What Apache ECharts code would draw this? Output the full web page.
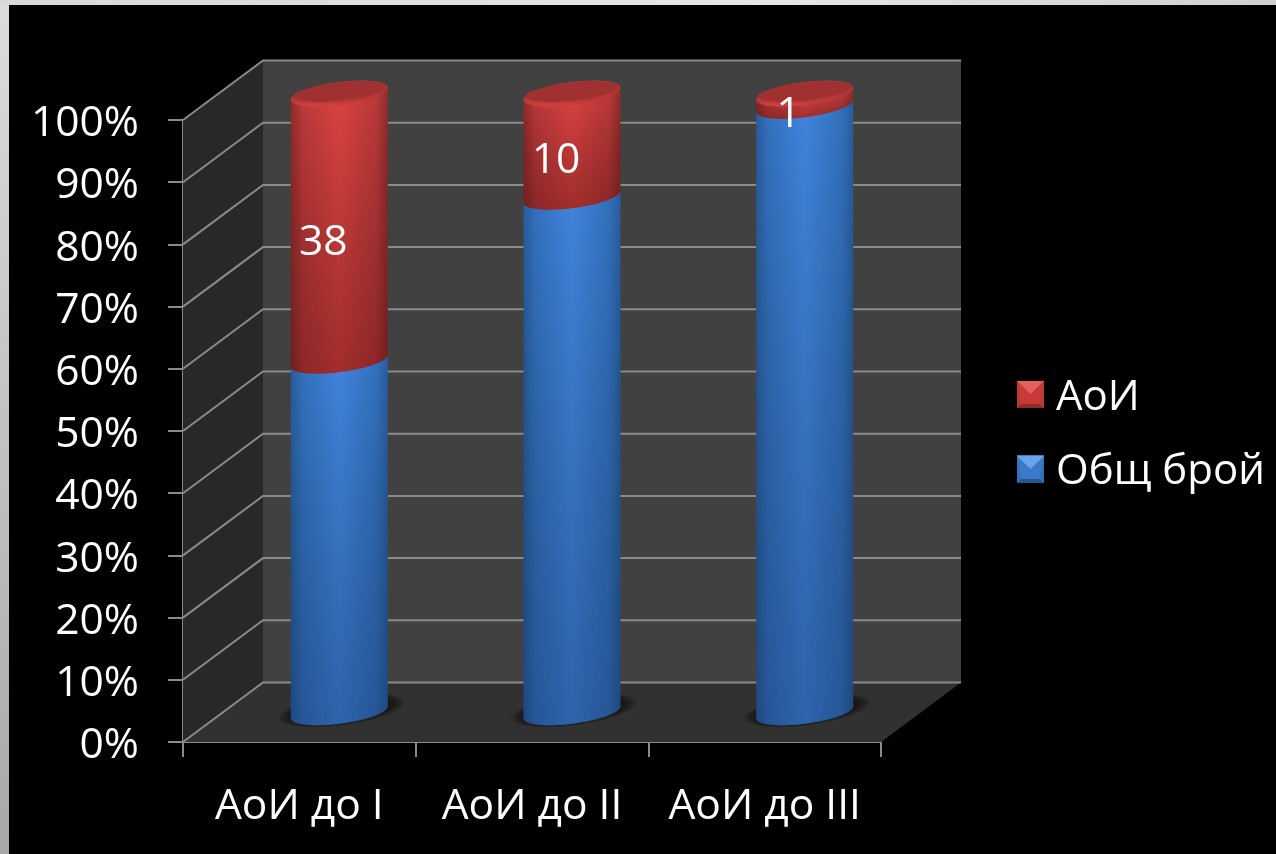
<!DOCTYPE html>
<html><head><meta charset="utf-8">
<style>html,body{margin:0;padding:0;background:#000}#c{width:1276px;height:854px}</style>
<script src="https://cdn.jsdelivr.net/npm/echarts@6/dist/echarts.min.js"></script>
</head><body><div id="c"></div>
<script>
const categories = ['АоИ до I', 'АоИ до II', 'АоИ до III'];
const totalSeries = [50, 50, 50];
const aoiSeries = [38, 10, 1];
const tickValues = [0, 10, 20, 30, 40, 50, 60, 70, 80, 90, 100];
const FONT = '"Open Sans"';
const DEPTH_X = 80, DEPTH_Y = -59.5;
const R = 48.5, B = 11.5, S = -6, H_SCALE = 0.9945;
const GRID = '#8a8a8a';

function pct(i, which) {
  const t = totalSeries[i] + aoiSeries[i];
  return which === 0 ? [0, totalSeries[i] / t * 100] : [totalSeries[i] / t * 100, 100];
}
function centre(api, i, p) {
  const base = api.coord([i, 0]), top = api.coord([i, p]);
  return [base[0] + DEPTH_X / 2, base[1] + DEPTH_Y / 2 + (top[1] - base[1]) * H_SCALE];
}
function arc(c, from, to) {
  const pts = [];
  for (let k = 0; k <= 48; k++) {
    const t = from + (to - from) * k / 48;
    pts.push([c[0] + R * Math.cos(t), c[1] + B * Math.sin(t) + S * Math.cos(t)]);
  }
  return pts;
}
function scaled(c, sx, sy) {
  return arc(c, 0, Math.PI * 2).map(q => [c[0] + (q[0] - c[0]) * sx, c[1] + (q[1] - c[1]) * sy]);
}

function wallsItem(params, api) {
  const cs = params.coordSys, ch = [];
  const x0 = cs.x, x1 = cs.x + cs.width;
  const yb = api.coord([0, 0])[1], yt = api.coord([0, 100])[1];
  const P = (pts, fill) => ({type: 'polygon', shape: {points: pts}, style: {fill}});
  ch.push(P([[x0 + DEPTH_X, yb + DEPTH_Y], [x1 + DEPTH_X, yb + DEPTH_Y], [x1 + DEPTH_X, yt + DEPTH_Y], [x0 + DEPTH_X, yt + DEPTH_Y]], '#414141'));
  ch.push(P([[x0, yb], [x0 + DEPTH_X, yb + DEPTH_Y], [x0 + DEPTH_X, yt + DEPTH_Y], [x0, yt]], '#282828'));
  ch.push(P([[x0, yb], [x1, yb], [x1 + DEPTH_X, yb + DEPTH_Y], [x0 + DEPTH_X, yb + DEPTH_Y]], '#313131'));
  tickValues.forEach(v => {
    const y = api.coord([0, v])[1];
    ch.push({type: 'polyline', shape: {points: [[x0, y], [x0 + DEPTH_X, y + DEPTH_Y], [x1 + DEPTH_X, y + DEPTH_Y]]},
      style: {stroke: GRID, lineWidth: 2, fill: null}});
  });
  return {type: 'group', children: ch};
}

const palette = [
  {edge: '#285c9c', side: '#3270bc', mid: '#3f84dc', bottomShade: 'rgba(10,25,60,0.30)'},
  {edge: '#8f2c2a', side: '#bb383a', mid: '#dc4340', bottomShade: 'rgba(50,5,5,0.34)'}
];

function segmentItem(which) {
  return function (params, api) {
    const i = params.dataIndex, p = pct(i, which);
    const cLow = centre(api, i, p[0]), cHigh = centre(api, i, p[1]);
    const ch = [];
    if (which === 0) {
      const sc = [cLow[0] + 2, cLow[1] - 2];
      for (let k = 0; k < 8; k++) {
        ch.push({type: 'polygon', shape: {points: scaled(sc, 1.3 - k * 0.035, 1.32 - k * 0.035)},
          style: {fill: 'rgba(18,10,10,0.11)'}});
      }
    }
    // side: front arc at the low end, back arc at the high end
    const pts = arc(cLow, Math.PI, 0).concat(arc(cHigh, 0, -Math.PI));
    const c = palette[which];
    const l = cLow[0] - R, r = cLow[0] + R;
    const sideFill = {type: 'linear', x: l, y: 0, x2: r, y2: 0, global: true, colorStops: [
      {offset: 0, color: c.edge}, {offset: 0.12, color: c.side},
      {offset: 0.5, color: c.mid}, {offset: 0.88, color: c.side},
      {offset: 1, color: c.edge}]};
    ch.push({type: 'polygon', shape: {points: pts}, style: {fill: sideFill}});
    ch.push({type: 'polygon', shape: {points: pts}, style: {fill: {type: 'linear', x: 0, y: cHigh[1], x2: 0, y2: cLow[1] + 13, global: true,
      colorStops: [{offset: 0, color: 'rgba(0,0,0,0)'}, {offset: 1, color: c.bottomShade}]}}});
    if (which === 1) {
      ch.push({type: 'polygon', shape: {points: arc(cHigh, 0, Math.PI * 2)},
        style: {fill: {type: 'linear', x: 0, y: cHigh[1] - 13, x2: 0, y2: cHigh[1] + 13, global: true,
          colorStops: [{offset: 0, color: '#a83432'}, {offset: 0.75, color: '#b83836'}, {offset: 1, color: '#d0443f'}]}}});
      ch.push({type: 'polygon', shape: {points: scaled([cHigh[0], cHigh[1] - 2], 0.96, 0.78)},
        style: {fill: '#a03130'}});
      ch.push({type: 'text', style: {text: String(aoiSeries[i]),
        x: (cLow[0] + cHigh[0]) / 2 - 16, y: (cLow[1] + cHigh[1]) / 2 + 15.5,
        align: 'center', verticalAlign: 'middle', fill: '#fff', font: '42.5px ' + FONT}});
    }
    return {type: 'group', children: ch};
  };
}

function bevel(x, y, s, top, bottom, left) {
  const d = 4;
  const P = (pts, fill) => ({type: 'polygon', z: 100, shape: {points: pts}, style: {fill}});
  return [
    P([[x, y], [x + s, y], [x + s / 2, y + 13]], top),
    P([[x, y + s], [x + s, y + s], [x + s - d, y + s - d], [x + d, y + s - d]], bottom),
    P([[x, y], [x + d, y + s - d], [x, y + s]], left),
    P([[x + s, y], [x + s - d, y + s - d], [x + s, y + s]], left)
  ];
}

const chart = echarts.init(document.getElementById('c'), null, {renderer: 'canvas'});
chart.setOption({
  animation: false,
  backgroundColor: '#000',
  textStyle: {fontFamily: FONT},
  grid: {left: 183, right: 395, top: 120, bottom: 112, containLabel: false},
  xAxis: {type: 'category', data: categories,
    axisLine: {show: true, lineStyle: {color: GRID, width: 2}},
    axisTick: {show: true, length: 15, alignWithLabel: false, interval: 0, lineStyle: {color: GRID, width: 2}},
    axisLabel: {color: '#fff', fontSize: 42.5, fontFamily: FONT, margin: 43, interval: 0, hideOverlap: false}},
  yAxis: {type: 'value', min: 0, max: 100, interval: 10,
    axisLine: {show: true, lineStyle: {color: GRID, width: 2}},
    axisTick: {show: true, length: 15, lineStyle: {color: GRID, width: 2}},
    splitLine: {show: false},
    axisLabel: {color: '#fff', margin: 44, formatter: '{t|{value}%}',
      rich: {t: {color: '#fff', fontSize: 42.5, fontFamily: FONT, padding: [8, 0, 0, 0]}}}},
  legend: {orient: 'vertical', left: 1017, top: 377, itemWidth: 27, itemHeight: 27, itemGap: 32,
    icon: 'rect', data: ['АоИ', 'Общ брой'], selectedMode: false, formatter: '{t|{name}}',
    textStyle: {color: '#fff', fontSize: 42, fontFamily: FONT,
      rich: {t: {color: '#fff', fontSize: 42, fontFamily: FONT, padding: [7, 0, 0, 7]}}}, padding: 0},
  series: [
    {type: 'custom', name: 'walls', silent: true, z: 1, renderItem: wallsItem, data: [0], clip: false, encode: {x: 0}},
    {type: 'custom', name: 'Общ брой', z: 3, renderItem: segmentItem(0), clip: false,
      itemStyle: {color: '#3a78c8'}, data: totalSeries.map((v, i) => [i, pct(i, 0)[1]]), encode: {x: 0, y: 1}},
    {type: 'custom', name: 'АоИ', z: 4, renderItem: segmentItem(1), clip: false,
      itemStyle: {color: '#c73a38'}, data: aoiSeries.map((v, i) => [i, 100]), encode: {x: 0, y: 1}}
  ],
  graphic: [
    {type: 'rect', z: 200, shape: {x: 0, y: 0, width: 9, height: 854},
      style: {fill: new echarts.graphic.LinearGradient(0, 0, 0, 1, [{offset: 0, color: '#dcdcdc'}, {offset: 1, color: '#a8a8a8'}])}},
    {type: 'rect', z: 200, shape: {x: 0, y: 0, width: 1276, height: 5},
      style: {fill: new echarts.graphic.LinearGradient(0, 0, 1, 0, [{offset: 0, color: '#d8d8d8'}, {offset: 0.6, color: '#e6e6e6'}, {offset: 1, color: '#d0d0d0'}])}},
    ...bevel(1017, 381, 27, '#e4605c', '#8e2c2a', '#b93835'),
    ...bevel(1017, 456, 27, '#6aa4e8', '#27558f', '#3470b8')
  ]
});
</script></body></html>
